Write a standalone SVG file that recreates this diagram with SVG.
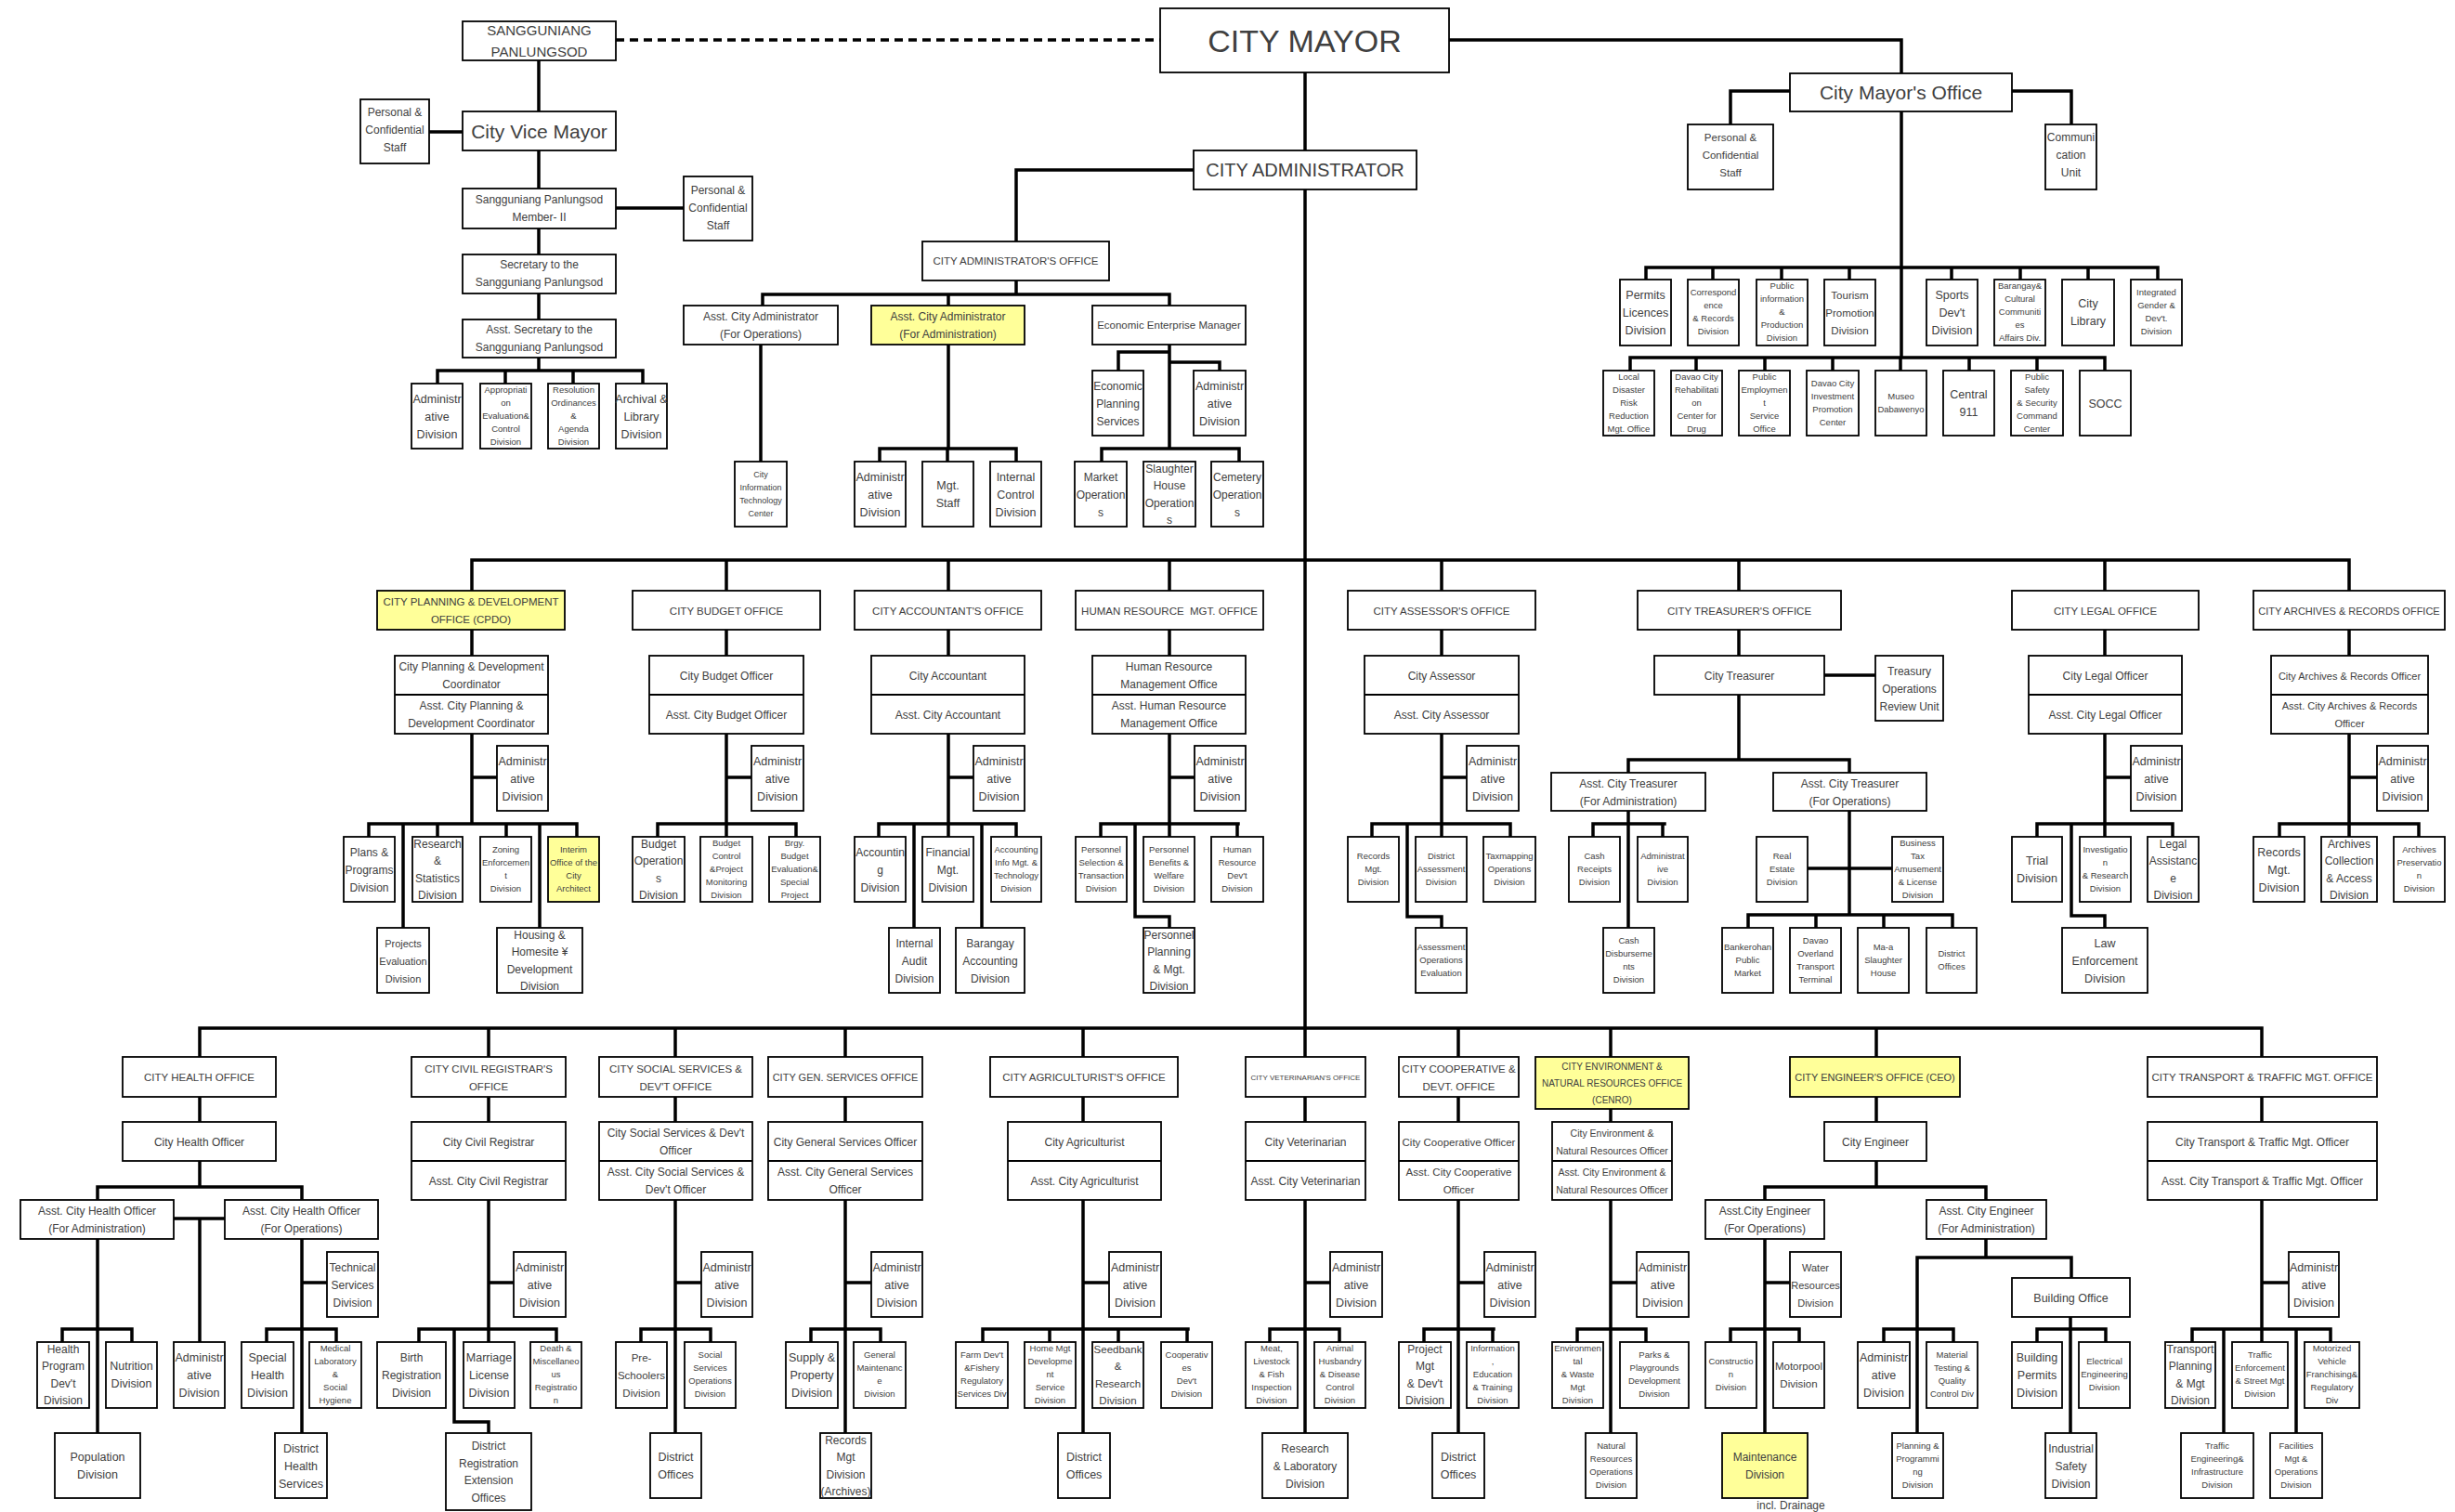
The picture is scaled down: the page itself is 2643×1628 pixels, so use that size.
<svg xmlns="http://www.w3.org/2000/svg" width="2643" height="1628" viewBox="0 0 2643 1628">
<style>
.r{fill:#fff;stroke:#000;stroke-width:1.8}
.y{fill:#ffff99;stroke:#000;stroke-width:1.8}
.dv{stroke:#000;stroke-width:1.8}
.cn{fill:none;stroke:#000;stroke-width:3.5;stroke-linecap:square}
.ds{fill:none;stroke:#000;stroke-width:3.5;stroke-dasharray:9 6}
text{font-family:"Liberation Sans",Arial,sans-serif;fill:#404040;text-anchor:middle}
.a{font-size:12.5px}.b{font-size:12px}.m{font-size:12px}.c{font-size:9.5px}.d{font-size:9px}.h{font-size:11.5px}
</style>
<rect width="2643" height="1628" fill="#fff"/>
<g id="connectors">
<path class="ds" d="M663 43H1249"/>
<path class="cn" d="M580 65V120M462 142H498M580 162V203M663 224H736M580 246V274M580 316V344M580 385V399M471 399H692M471 399V413M544 399V413M617 399V413M692 399V413"/>
<path class="cn" d="M1405 78V162M1560 43H2047V79M1285 183H1094V260M1405 204V1138"/>
<path class="cn" d="M1927 98H1863V134M2166 98H2230V134M2047 120V385M1772 288H2323M1772 288V301M1844 288V301M1918 288V301M1991 288V301M2101 288V301M2175 288V301M2248 288V301M2323 288V301M1755 385H2266M1755 385V399M1826 385V399M1900 385V399M1973 385V399M2046 385V399M2120 385V399M2193 385V399M2266 385V399"/>
<path class="cn" d="M1094 302V317M821 317H1259M821 317V329M1021 317V329M1259 317V329M819 371V497M1021 371V483M947 483H1094M947 483V497M1020 483V497M1094 483V497M1259 371V483M1259 379H1204V399M1259 390H1313V399M1186 483H1334M1186 483V497M1334 483V497"/>
<path class="cn" d="M508 603H2529M508 603V636M782 603V636M1021 603V636M1259 603V636M1552 603V636M1872 603V636M2266 603V636M2529 603V636"/>
<path class="cn" d="M508 678V706M508 790V887M508 837H535M397 887H621M397 887V901M471 887V901M545 887V901M621 887V901M434 887V999M581 887V999"/>
<path class="cn" d="M782 678V706M782 790V887M782 837H809M708 887H857M708 887V901M782 887V901M857 887V901"/>
<path class="cn" d="M1021 678V706M1021 790V887M1021 837H1048M946 887H1094M946 887V901M1021 887V901M1094 887V901M984 887V999M1057 887V999"/>
<path class="cn" d="M1259 678V706M1259 790V887M1259 837H1286M1185 887H1333M1185 887V901M1259 887V901M1332 887V901M1222 887V987H1259V999"/>
<path class="cn" d="M1552 678V706M1552 790V887M1552 837H1579M1477 887H1626M1477 887V901M1552 887V901M1626 887V901M1515 887V987H1552V999"/>
<path class="cn" d="M1872 678V706M1964 727H2019M1872 748V818M1753 818H1991M1753 818V832M1991 818V832M1753 873V999M1715 887H1792M1715 887V901M1790 887V901M1991 873V985M1946 935H2037M1882 985H2102M1882 985V999M1955 985V999M2028 985V999M2102 985V999"/>
<path class="cn" d="M2266 678V706M2266 790V887M2266 837H2294M2193 887H2339M2193 887V901M2266 887V901M2339 887V901M2230 887V986H2266V999"/>
<path class="cn" d="M2529 678V706M2529 790V887M2529 837H2559M2454 887H2604M2454 887V901M2529 887V901M2604 887V901"/>
<path class="cn" d="M215 1107H2435M215 1107V1138M526 1107V1138M727 1107V1138M910 1107V1138M1166 1107V1138M1570 1107V1138M1734 1107V1138M2020 1107V1138M2435 1107V1138"/>
<path class="cn" d="M215 1181V1208M215 1250V1278M105 1278H325M105 1278V1292M325 1278V1292M187 1312H242M215 1312V1445M105 1334V1543M67 1431H142M67 1431V1445M142 1431V1445M325 1334V1543M325 1381H352M287 1431H362M287 1431V1445M362 1431V1445"/>
<path class="cn" d="M526 1181V1208M526 1292V1431M526 1381H553M451 1431H599M451 1431V1445M526 1431V1445M599 1431V1445M489 1431V1531H526V1543"/>
<path class="cn" d="M727 1181V1208M727 1292V1543M727 1381H755M690 1431H765M690 1431V1445M765 1431V1445"/>
<path class="cn" d="M910 1181V1208M910 1292V1543M910 1381H938M873 1431H948M873 1431V1445M948 1431V1445"/>
<path class="cn" d="M1166 1181V1208M1166 1292V1543M1166 1381H1194M1058 1431H1279M1058 1431V1445M1130 1431V1445M1204 1431V1445M1278 1431V1445"/>
<path class="cn" d="M1405 1181V1208M1405 1292V1543M1405 1381H1432M1367 1431H1442M1367 1431V1445M1442 1431V1445"/>
<path class="cn" d="M1570 1181V1208M1570 1292V1543M1570 1381H1598M1533 1431H1608M1533 1431V1445M1607 1431V1445"/>
<path class="cn" d="M1734 1194V1208M1734 1292V1543M1734 1381H1762M1698 1431H1772M1698 1431V1445M1772 1431V1445"/>
<path class="cn" d="M2020 1181V1208M2020 1250V1278M1900 1278H2138M1900 1278V1292M2138 1278V1292M1900 1334V1543M1900 1381H1927M1863 1431H1937M1863 1431V1445M1937 1431V1445M2138 1334V1354M2064 1354H2230M2064 1354V1543M2230 1354V1376M2028 1431H2103M2028 1431V1445M2103 1431V1445M2229 1418V1543M2193 1431H2267M2193 1431V1445M2267 1431V1445"/>
<path class="cn" d="M2435 1181V1208M2435 1292V1445M2435 1381H2464M2360 1431H2509M2360 1431V1445M2509 1431V1445M2394 1431V1543M2472 1431V1543"/>
</g>

<g id="sp"><rect class="r" x="498" y="23" width="165" height="42"/><text style="font-size:15px"><tspan x="580.5" y="38">SANGGUNIANG</tspan><tspan x="580.5" y="61">PANLUNGSOD</tspan></text></g>
<g id="vice-mayor"><rect class="r" x="498" y="120" width="165" height="42"/><text x="580.5" y="149" style="font-size:21px">City Vice Mayor</text></g>
<g id="vm-staff"><rect class="r" x="388" y="107" width="74" height="69"/><text class="b"><tspan x="425" y="125">Personal &amp;</tspan><tspan x="425" y="144">Confidential</tspan><tspan x="425" y="163">Staff</tspan></text></g>
<g id="sp-member"><rect class="r" x="498" y="203" width="165" height="43"/><text class="m"><tspan x="580.5" y="218.5">Sangguniang Panlungsod</tspan><tspan x="580.5" y="237.5">Member- II</tspan></text></g>
<g id="member-staff"><rect class="r" x="736" y="190" width="74" height="69"/><text class="b"><tspan x="773" y="209">Personal &amp;</tspan><tspan x="773" y="228">Confidential</tspan><tspan x="773" y="247">Staff</tspan></text></g>
<g id="sp-secretary"><rect class="r" x="498" y="274" width="165" height="42"/><text class="m"><tspan x="580.5" y="288.5">Secretary to the</tspan><tspan x="580.5" y="307.5">Sangguniang Panlungsod</tspan></text></g>
<g id="sp-asst-secretary"><rect class="r" x="498" y="344" width="165" height="41"/><text class="m"><tspan x="580.5" y="359">Asst. Secretary to the</tspan><tspan x="580.5" y="378">Sangguniang Panlungsod</tspan></text></g>
<g id="sp-admin"><rect class="r" x="443" y="413" width="55" height="70"/><text class="a"><tspan x="470.5" y="433.5">Administr</tspan><tspan x="470.5" y="452.5">ative</tspan><tspan x="470.5" y="471.5">Division</tspan></text></g>
<g id="sp-approp"><rect class="r" x="517" y="413" width="55" height="70"/><text class="c"><tspan x="544.5" y="423.3">Appropriati</tspan><tspan x="544.5" y="437.3">on</tspan><tspan x="544.5" y="451.3">Evaluation&amp;</tspan><tspan x="544.5" y="465.3">Control</tspan><tspan x="544.5" y="479.3">Division</tspan></text></g>
<g id="sp-resolution"><rect class="r" x="590" y="413" width="55" height="70"/><text class="c"><tspan x="617.5" y="423.3">Resolution</tspan><tspan x="617.5" y="437.3">Ordinances</tspan><tspan x="617.5" y="451.3">&amp;</tspan><tspan x="617.5" y="465.3">Agenda</tspan><tspan x="617.5" y="479.3">Division</tspan></text></g>
<g id="sp-archival"><rect class="r" x="663" y="413" width="55" height="70"/><text class="a"><tspan x="690.5" y="433.5">Archival &amp;</tspan><tspan x="690.5" y="452.5">Library</tspan><tspan x="690.5" y="471.5">Division</tspan></text></g>

<g id="city-mayor"><rect class="r" x="1249" y="9" width="311" height="69"/><text x="1404.5" y="56" style="font-size:34px">CITY MAYOR</text></g>
<g id="city-administrator"><rect class="r" x="1285" y="162" width="240" height="42"/><text x="1405" y="190" style="font-size:20px">CITY ADMINISTRATOR</text></g>
<g id="mayors-office"><rect class="r" x="1927" y="79" width="239" height="41"/><text x="2046.5" y="107" style="font-size:21px">City Mayor's Office</text></g>
<g id="mo-staff"><rect class="r" x="1817" y="134" width="92" height="70"/><text style="font-size:11.5px"><tspan x="1863" y="152">Personal &amp;</tspan><tspan x="1863" y="171">Confidential</tspan><tspan x="1863" y="190">Staff</tspan></text></g>
<g id="mo-comm"><rect class="r" x="2202" y="134" width="55" height="70"/><text class="b"><tspan x="2229.5" y="152">Communi</tspan><tspan x="2229.5" y="171">cation</tspan><tspan x="2229.5" y="190">Unit</tspan></text></g>
<g id="mo-permits"><rect class="r" x="1744" y="301" width="55" height="71"/><text class="a"><tspan x="1771.5" y="321.5">Permits</tspan><tspan x="1771.5" y="340.5">Licences</tspan><tspan x="1771.5" y="359.5">Division</tspan></text></g>
<g id="mo-corr"><rect class="r" x="1817" y="301" width="55" height="71"/><text class="c"><tspan x="1844.5" y="318.3">Correspond</tspan><tspan x="1844.5" y="332.3">ence</tspan><tspan x="1844.5" y="346.3">&amp; Records</tspan><tspan x="1844.5" y="360.3">Division</tspan></text></g>
<g id="mo-pubinfo"><rect class="r" x="1891" y="301" width="55" height="71"/><text class="c"><tspan x="1918.5" y="311.3">Public</tspan><tspan x="1918.5" y="325.3">information</tspan><tspan x="1918.5" y="339.3">&amp;</tspan><tspan x="1918.5" y="353.3">Production</tspan><tspan x="1918.5" y="367.3">Division</tspan></text></g>
<g id="mo-tourism"><rect class="r" x="1964" y="301" width="55" height="71"/><text style="font-size:11.5px"><tspan x="1991.5" y="321.5">Tourism</tspan><tspan x="1991.5" y="340.5">Promotion</tspan><tspan x="1991.5" y="359.5">Division</tspan></text></g>
<g id="mo-sports"><rect class="r" x="2074" y="301" width="55" height="71"/><text class="a"><tspan x="2101.5" y="321.5">Sports</tspan><tspan x="2101.5" y="340.5">Dev't</tspan><tspan x="2101.5" y="359.5">Division</tspan></text></g>
<g id="mo-brgy"><rect class="r" x="2147" y="301" width="55" height="71"/><text class="c"><tspan x="2174.5" y="311.3">Barangay&amp;</tspan><tspan x="2174.5" y="325.3">Cultural</tspan><tspan x="2174.5" y="339.3">Communiti</tspan><tspan x="2174.5" y="353.3">es</tspan><tspan x="2174.5" y="367.3">Affairs Div.</tspan></text></g>
<g id="mo-library"><rect class="r" x="2220" y="301" width="56" height="71"/><text class="a"><tspan x="2248" y="331">City</tspan><tspan x="2248" y="350">Library</tspan></text></g>
<g id="mo-gender"><rect class="r" x="2294" y="301" width="55" height="71"/><text class="c"><tspan x="2321.5" y="318.3">Integrated</tspan><tspan x="2321.5" y="332.3">Gender &amp;</tspan><tspan x="2321.5" y="346.3">Dev't.</tspan><tspan x="2321.5" y="360.3">Division</tspan></text></g>
<g id="mo-ldrrmo"><rect class="r" x="1726" y="399" width="55" height="70"/><text class="c"><tspan x="1753.5" y="409.3">Local</tspan><tspan x="1753.5" y="423.3">Disaster</tspan><tspan x="1753.5" y="437.3">Risk</tspan><tspan x="1753.5" y="451.3">Reduction</tspan><tspan x="1753.5" y="465.3">Mgt. Office</tspan></text></g>
<g id="mo-rehab"><rect class="r" x="1799" y="399" width="55" height="70"/><text class="c"><tspan x="1826.5" y="409.3">Davao City</tspan><tspan x="1826.5" y="423.3">Rehabilitati</tspan><tspan x="1826.5" y="437.3">on</tspan><tspan x="1826.5" y="451.3">Center for</tspan><tspan x="1826.5" y="465.3">Drug</tspan></text></g>
<g id="mo-peso"><rect class="r" x="1872" y="399" width="55" height="70"/><text class="c"><tspan x="1899.5" y="409.3">Public</tspan><tspan x="1899.5" y="423.3">Employmen</tspan><tspan x="1899.5" y="437.3">t</tspan><tspan x="1899.5" y="451.3">Service</tspan><tspan x="1899.5" y="465.3">Office</tspan></text></g>
<g id="mo-dcipc"><rect class="r" x="1945" y="399" width="56" height="70"/><text class="c"><tspan x="1973" y="416.3">Davao City</tspan><tspan x="1973" y="430.3">Investment</tspan><tspan x="1973" y="444.3">Promotion</tspan><tspan x="1973" y="458.3">Center</tspan></text></g>
<g id="mo-museo"><rect class="r" x="2019" y="399" width="55" height="70"/><text class="c"><tspan x="2046.5" y="430.3">Museo</tspan><tspan x="2046.5" y="444.3">Dabawenyo</tspan></text></g>
<g id="mo-911"><rect class="r" x="2092" y="399" width="55" height="70"/><text class="a"><tspan x="2119.5" y="429">Central</tspan><tspan x="2119.5" y="448">911</tspan></text></g>
<g id="mo-pssc"><rect class="r" x="2165" y="399" width="56" height="70"/><text class="c"><tspan x="2193" y="409.3">Public</tspan><tspan x="2193" y="423.3">Safety</tspan><tspan x="2193" y="437.3">&amp; Security</tspan><tspan x="2193" y="451.3">Command</tspan><tspan x="2193" y="465.3">Center</tspan></text></g>
<g id="mo-socc"><rect class="r" x="2239" y="399" width="55" height="70"/><text x="2266.5" y="438.5" class="a">SOCC</text></g>

<g id="cao"><rect class="r" x="993" y="260" width="201" height="42"/><text x="1093.5" y="285" class="h">CITY ADMINISTRATOR'S OFFICE</text></g>
<g id="aca-ops"><rect class="r" x="736" y="329" width="166" height="42"/><text class="m"><tspan x="819" y="345">Asst. City Administrator</tspan><tspan x="819" y="364">(For Operations)</tspan></text></g>
<g id="aca-adm"><rect class="y" x="938" y="329" width="165" height="42"/><text class="m"><tspan x="1020.5" y="345">Asst. City Administrator</tspan><tspan x="1020.5" y="364">(For Administration)</tspan></text></g>
<g id="eem"><rect class="r" x="1176" y="329" width="165" height="42"/><text x="1258.5" y="354" style="font-size:11.5px">Economic Enterprise Manager</text></g>
<g id="citc"><rect class="r" x="791" y="497" width="56" height="70"/><text class="d"><tspan x="819" y="514.3">City</tspan><tspan x="819" y="528.3">Information</tspan><tspan x="819" y="542.3">Technology</tspan><tspan x="819" y="556.3">Center</tspan></text></g>
<g id="cao-admin"><rect class="r" x="920" y="497" width="55" height="70"/><text class="a"><tspan x="947.5" y="517.5">Administr</tspan><tspan x="947.5" y="536.5">ative</tspan><tspan x="947.5" y="555.5">Division</tspan></text></g>
<g id="cao-mgt"><rect class="r" x="993" y="497" width="55" height="70"/><text class="a"><tspan x="1020.5" y="527">Mgt.</tspan><tspan x="1020.5" y="546">Staff</tspan></text></g>
<g id="cao-icd"><rect class="r" x="1066" y="497" width="55" height="70"/><text class="a"><tspan x="1093.5" y="517.5">Internal</tspan><tspan x="1093.5" y="536.5">Control</tspan><tspan x="1093.5" y="555.5">Division</tspan></text></g>
<g id="eem-eps"><rect class="r" x="1176" y="399" width="55" height="70"/><text class="m"><tspan x="1203.5" y="419.5">Economic</tspan><tspan x="1203.5" y="438.5">Planning</tspan><tspan x="1203.5" y="457.5">Services</tspan></text></g>
<g id="eem-admin"><rect class="r" x="1285" y="399" width="56" height="70"/><text class="a"><tspan x="1313" y="419.5">Administr</tspan><tspan x="1313" y="438.5">ative</tspan><tspan x="1313" y="457.5">Division</tspan></text></g>
<g id="eem-market"><rect class="r" x="1157" y="497" width="56" height="70"/><text class="b"><tspan x="1185" y="517.5">Market</tspan><tspan x="1185" y="536.5">Operation</tspan><tspan x="1185" y="555.5">s</tspan></text></g>
<g id="eem-slaughter"><rect class="r" x="1231" y="497" width="56" height="70"/><text class="b"><tspan x="1259" y="508.5">Slaughter</tspan><tspan x="1259" y="527">House</tspan><tspan x="1259" y="545.5">Operation</tspan><tspan x="1259" y="564">s</tspan></text></g>
<g id="eem-cemetery"><rect class="r" x="1304" y="497" width="56" height="70"/><text class="b"><tspan x="1332" y="517.5">Cemetery</tspan><tspan x="1332" y="536.5">Operation</tspan><tspan x="1332" y="555.5">s</tspan></text></g>

<g id="cpdo"><rect class="y" x="406" y="636" width="202" height="42"/><text class="h"><tspan x="507" y="651.5">CITY PLANNING &amp; DEVELOPMENT</tspan><tspan x="507" y="670.5">OFFICE (CPDO)</tspan></text></g>
<g id="cbo"><rect class="r" x="681" y="636" width="202" height="42"/><text x="782" y="661.5" class="h">CITY BUDGET OFFICE</text></g>
<g id="cacco"><rect class="r" x="920" y="636" width="201" height="42"/><text x="1020.5" y="661.5" class="h">CITY ACCOUNTANT'S OFFICE</text></g>
<g id="hrmo"><rect class="r" x="1158" y="636" width="202" height="42"/><text x="1259" y="661.5" class="h" xml:space="preserve">HUMAN RESOURCE  MGT. OFFICE</text></g>
<g id="casso"><rect class="r" x="1451" y="636" width="202" height="42"/><text x="1552" y="661.5" class="h">CITY ASSESSOR'S OFFICE</text></g>
<g id="cto"><rect class="r" x="1763" y="636" width="219" height="42"/><text x="1872.5" y="661.5" class="h">CITY TREASURER'S OFFICE</text></g>
<g id="clo"><rect class="r" x="2166" y="636" width="201" height="42"/><text x="2266.5" y="661.5" class="h">CITY LEGAL OFFICE</text></g>
<g id="caro"><rect class="r" x="2426" y="636" width="206" height="42"/><text x="2529" y="661.5" style="font-size:11px">CITY ARCHIVES &amp; RECORDS OFFICE</text></g>

<g id="cpdo-coord"><rect class="r" x="425" y="706" width="165" height="84"/><line class="dv" x1="425" y1="748" x2="590" y2="748"/><text class="m"><tspan x="507.5" y="722">City Planning &amp; Development</tspan><tspan x="507.5" y="741">Coordinator</tspan><tspan x="507.5" y="764">Asst. City Planning &amp;</tspan><tspan x="507.5" y="783">Development Coordinator</tspan></text></g>
<g id="cbo-officer"><rect class="r" x="699" y="706" width="166" height="84"/><line class="dv" x1="699" y1="748" x2="865" y2="748"/><text class="m"><tspan x="782" y="731.5">City Budget Officer</tspan><tspan x="782" y="773.5">Asst. City Budget Officer</tspan></text></g>
<g id="cacc-officer"><rect class="r" x="938" y="706" width="165" height="84"/><line class="dv" x1="938" y1="748" x2="1103" y2="748"/><text class="m"><tspan x="1020.5" y="731.5">City Accountant</tspan><tspan x="1020.5" y="773.5">Asst. City Accountant</tspan></text></g>
<g id="hr-officer"><rect class="r" x="1176" y="706" width="165" height="84"/><line class="dv" x1="1176" y1="748" x2="1341" y2="748"/><text class="m"><tspan x="1258.5" y="722">Human Resource</tspan><tspan x="1258.5" y="741">Management Office</tspan><tspan x="1258.5" y="764">Asst. Human Resource</tspan><tspan x="1258.5" y="783">Management Office</tspan></text></g>
<g id="cass-officer"><rect class="r" x="1469" y="706" width="166" height="84"/><line class="dv" x1="1469" y1="748" x2="1635" y2="748"/><text class="m"><tspan x="1552" y="731.5">City Assessor</tspan><tspan x="1552" y="773.5">Asst. City Assessor</tspan></text></g>
<g id="treasurer"><rect class="r" x="1781" y="706" width="183" height="42"/><text x="1872.5" y="731.5" class="m">City Treasurer</text></g>
<g id="legal-officer"><rect class="r" x="2184" y="706" width="165" height="84"/><line class="dv" x1="2184" y1="748" x2="2349" y2="748"/><text class="m"><tspan x="2266.5" y="731.5">City Legal Officer</tspan><tspan x="2266.5" y="773.5">Asst. City Legal Officer</tspan></text></g>
<g id="archives-officer"><rect class="r" x="2445" y="706" width="169" height="84"/><line class="dv" x1="2445" y1="748" x2="2614" y2="748"/><text style="font-size:11px"><tspan x="2529.5" y="731.5">City Archives &amp; Records Officer</tspan><tspan x="2529.5" y="764">Asst. City Archives &amp; Records</tspan><tspan x="2529.5" y="783">Officer</tspan></text></g>

<g id="cpdo-admin"><rect class="r" x="535" y="803" width="55" height="70"/><text class="a"><tspan x="562.5" y="823.5">Administr</tspan><tspan x="562.5" y="842.5">ative</tspan><tspan x="562.5" y="861.5">Division</tspan></text></g>
<g id="cbo-admin"><rect class="r" x="809" y="803" width="56" height="70"/><text class="a"><tspan x="837" y="823.5">Administr</tspan><tspan x="837" y="842.5">ative</tspan><tspan x="837" y="861.5">Division</tspan></text></g>
<g id="cacc-admin"><rect class="r" x="1048" y="803" width="55" height="70"/><text class="a"><tspan x="1075.5" y="823.5">Administr</tspan><tspan x="1075.5" y="842.5">ative</tspan><tspan x="1075.5" y="861.5">Division</tspan></text></g>
<g id="hr-admin"><rect class="r" x="1286" y="803" width="55" height="70"/><text class="a"><tspan x="1313.5" y="823.5">Administr</tspan><tspan x="1313.5" y="842.5">ative</tspan><tspan x="1313.5" y="861.5">Division</tspan></text></g>
<g id="cass-admin"><rect class="r" x="1579" y="803" width="56" height="70"/><text class="a"><tspan x="1607" y="823.5">Administr</tspan><tspan x="1607" y="842.5">ative</tspan><tspan x="1607" y="861.5">Division</tspan></text></g>
<g id="legal-admin"><rect class="r" x="2294" y="803" width="55" height="70"/><text class="a"><tspan x="2321.5" y="823.5">Administr</tspan><tspan x="2321.5" y="842.5">ative</tspan><tspan x="2321.5" y="861.5">Division</tspan></text></g>
<g id="arch-admin"><rect class="r" x="2559" y="803" width="55" height="70"/><text class="a"><tspan x="2586.5" y="823.5">Administr</tspan><tspan x="2586.5" y="842.5">ative</tspan><tspan x="2586.5" y="861.5">Division</tspan></text></g>

<g id="cpdo-plans"><rect class="r" x="370" y="901" width="55" height="70"/><text class="m"><tspan x="397.5" y="921.5">Plans &amp;</tspan><tspan x="397.5" y="940.5">Programs</tspan><tspan x="397.5" y="959.5">Division</tspan></text></g>
<g id="cpdo-research"><rect class="r" x="444" y="901" width="54" height="70"/><text class="b"><tspan x="471" y="912.5">Research</tspan><tspan x="471" y="931">&amp;</tspan><tspan x="471" y="949.5">Statistics</tspan><tspan x="471" y="968">Division</tspan></text></g>
<g id="cpdo-zoning"><rect class="r" x="517" y="901" width="55" height="70"/><text class="c"><tspan x="544.5" y="918.3">Zoning</tspan><tspan x="544.5" y="932.3">Enforcemen</tspan><tspan x="544.5" y="946.3">t</tspan><tspan x="544.5" y="960.3">Division</tspan></text></g>
<g id="cpdo-interim"><rect class="y" x="590" y="901" width="55" height="70"/><text class="c"><tspan x="617.5" y="918.3">Interim</tspan><tspan x="617.5" y="932.3">Office of the</tspan><tspan x="617.5" y="946.3">City</tspan><tspan x="617.5" y="960.3">Architect</tspan></text></g>
<g id="cpdo-projects"><rect class="r" x="406" y="999" width="56" height="70"/><text style="font-size:11px"><tspan x="434" y="1019.5">Projects</tspan><tspan x="434" y="1038.5">Evaluation</tspan><tspan x="434" y="1057.5">Division</tspan></text></g>
<g id="cpdo-housing"><rect class="r" x="535" y="999" width="92" height="70"/><text class="b"><tspan x="581" y="1010.5">Housing &amp;</tspan><tspan x="581" y="1029">Homesite ¥</tspan><tspan x="581" y="1047.5">Development</tspan><tspan x="581" y="1066">Division</tspan></text></g>

<g id="cbo-ops"><rect class="r" x="681" y="901" width="56" height="70"/><text class="b"><tspan x="709" y="912.5">Budget</tspan><tspan x="709" y="931">Operation</tspan><tspan x="709" y="949.5">s</tspan><tspan x="709" y="968">Division</tspan></text></g>
<g id="cbo-control"><rect class="r" x="754" y="901" width="56" height="70"/><text class="c"><tspan x="782" y="911.3">Budget</tspan><tspan x="782" y="925.3">Control</tspan><tspan x="782" y="939.3">&amp;Project</tspan><tspan x="782" y="953.3">Monitoring</tspan><tspan x="782" y="967.3">Division</tspan></text></g>
<g id="cbo-brgy"><rect class="r" x="828" y="901" width="55" height="70"/><text class="c"><tspan x="855.5" y="911.3">Brgy.</tspan><tspan x="855.5" y="925.3">Budget</tspan><tspan x="855.5" y="939.3">Evaluation&amp;</tspan><tspan x="855.5" y="953.3">Special</tspan><tspan x="855.5" y="967.3">Project</tspan></text></g>

<g id="acc-accounting"><rect class="r" x="920" y="901" width="55" height="70"/><text class="m"><tspan x="947.5" y="921.5">Accountin</tspan><tspan x="947.5" y="940.5">g</tspan><tspan x="947.5" y="959.5">Division</tspan></text></g>
<g id="acc-financial"><rect class="r" x="993" y="901" width="55" height="70"/><text class="m"><tspan x="1020.5" y="921.5">Financial</tspan><tspan x="1020.5" y="940.5">Mgt.</tspan><tspan x="1020.5" y="959.5">Division</tspan></text></g>
<g id="acc-aimt"><rect class="r" x="1067" y="901" width="54" height="70"/><text class="c"><tspan x="1094" y="918.3">Accounting</tspan><tspan x="1094" y="932.3">Info Mgt. &amp;</tspan><tspan x="1094" y="946.3">Technology</tspan><tspan x="1094" y="960.3">Division</tspan></text></g>
<g id="acc-audit"><rect class="r" x="957" y="999" width="55" height="70"/><text class="m"><tspan x="984.5" y="1019.5">Internal</tspan><tspan x="984.5" y="1038.5">Audit</tspan><tspan x="984.5" y="1057.5">Division</tspan></text></g>
<g id="acc-brgy"><rect class="r" x="1029" y="999" width="74" height="70"/><text class="m"><tspan x="1066" y="1019.5">Barangay</tspan><tspan x="1066" y="1038.5">Accounting</tspan><tspan x="1066" y="1057.5">Division</tspan></text></g>

<g id="hr-pstd"><rect class="r" x="1158" y="901" width="55" height="70"/><text class="c"><tspan x="1185.5" y="918.3">Personnel</tspan><tspan x="1185.5" y="932.3">Selection &amp;</tspan><tspan x="1185.5" y="946.3">Transaction</tspan><tspan x="1185.5" y="960.3">Division</tspan></text></g>
<g id="hr-pbwd"><rect class="r" x="1231" y="901" width="55" height="70"/><text class="c"><tspan x="1258.5" y="918.3">Personnel</tspan><tspan x="1258.5" y="932.3">Benefits &amp;</tspan><tspan x="1258.5" y="946.3">Welfare</tspan><tspan x="1258.5" y="960.3">Division</tspan></text></g>
<g id="hr-hrdd"><rect class="r" x="1304" y="901" width="56" height="70"/><text class="c"><tspan x="1332" y="918.3">Human</tspan><tspan x="1332" y="932.3">Resource</tspan><tspan x="1332" y="946.3">Dev't</tspan><tspan x="1332" y="960.3">Division</tspan></text></g>
<g id="hr-ppmd"><rect class="r" x="1231" y="999" width="55" height="70"/><text class="b"><tspan x="1258.5" y="1010.5">Personnel</tspan><tspan x="1258.5" y="1029">Planning</tspan><tspan x="1258.5" y="1047.5">&amp; Mgt.</tspan><tspan x="1258.5" y="1066">Division</tspan></text></g>

<g id="ass-records"><rect class="r" x="1451" y="901" width="55" height="70"/><text class="c"><tspan x="1478.5" y="925.3">Records</tspan><tspan x="1478.5" y="939.3">Mgt.</tspan><tspan x="1478.5" y="953.3">Division</tspan></text></g>
<g id="ass-district"><rect class="r" x="1524" y="901" width="55" height="70"/><text class="c"><tspan x="1551.5" y="925.3">District</tspan><tspan x="1551.5" y="939.3">Assessment</tspan><tspan x="1551.5" y="953.3">Division</tspan></text></g>
<g id="ass-taxmap"><rect class="r" x="1597" y="901" width="56" height="70"/><text class="c"><tspan x="1625" y="925.3">Taxmapping</tspan><tspan x="1625" y="939.3">Operations</tspan><tspan x="1625" y="953.3">Division</tspan></text></g>
<g id="ass-aoe"><rect class="r" x="1524" y="999" width="55" height="70"/><text class="c"><tspan x="1551.5" y="1023.3">Assessment</tspan><tspan x="1551.5" y="1037.3">Operations</tspan><tspan x="1551.5" y="1051.3">Evaluation</tspan></text></g>

<g id="tr-review"><rect class="r" x="2019" y="706" width="73" height="70"/><text class="m"><tspan x="2055.5" y="726.5">Treasury</tspan><tspan x="2055.5" y="745.5">Operations</tspan><tspan x="2055.5" y="764.5">Review Unit</tspan></text></g>
<g id="tr-asst-adm"><rect class="r" x="1670" y="832" width="166" height="41"/><text class="m"><tspan x="1753" y="847.5">Asst. City Treasurer</tspan><tspan x="1753" y="866.5">(For Administration)</tspan></text></g>
<g id="tr-asst-ops"><rect class="r" x="1909" y="832" width="165" height="41"/><text class="m"><tspan x="1991.5" y="847.5">Asst. City Treasurer</tspan><tspan x="1991.5" y="866.5">(For Operations)</tspan></text></g>
<g id="tr-cashrec"><rect class="r" x="1689" y="901" width="55" height="70"/><text class="c"><tspan x="1716.5" y="925.3">Cash</tspan><tspan x="1716.5" y="939.3">Receipts</tspan><tspan x="1716.5" y="953.3">Division</tspan></text></g>
<g id="tr-admin"><rect class="r" x="1763" y="901" width="54" height="70"/><text class="c"><tspan x="1790" y="925.3">Administrat</tspan><tspan x="1790" y="939.3">ive</tspan><tspan x="1790" y="953.3">Division</tspan></text></g>
<g id="tr-cashdisb"><rect class="r" x="1726" y="999" width="55" height="70"/><text class="c"><tspan x="1753.5" y="1016.3">Cash</tspan><tspan x="1753.5" y="1030.3">Disburseme</tspan><tspan x="1753.5" y="1044.3">nts</tspan><tspan x="1753.5" y="1058.3">Division</tspan></text></g>
<g id="tr-realestate"><rect class="r" x="1891" y="901" width="55" height="70"/><text class="c"><tspan x="1918.5" y="925.3">Real</tspan><tspan x="1918.5" y="939.3">Estate</tspan><tspan x="1918.5" y="953.3">Division</tspan></text></g>
<g id="tr-business"><rect class="r" x="2037" y="901" width="55" height="70"/><text class="c"><tspan x="2064.5" y="911.3">Business</tspan><tspan x="2064.5" y="925.3">Tax</tspan><tspan x="2064.5" y="939.3">Amusement</tspan><tspan x="2064.5" y="953.3">&amp; License</tspan><tspan x="2064.5" y="967.3">Division</tspan></text></g>
<g id="tr-bankerohan"><rect class="r" x="1854" y="999" width="55" height="70"/><text class="c"><tspan x="1881.5" y="1023.3">Bankerohan</tspan><tspan x="1881.5" y="1037.3">Public</tspan><tspan x="1881.5" y="1051.3">Market</tspan></text></g>
<g id="tr-dott"><rect class="r" x="1927" y="999" width="55" height="70"/><text class="c"><tspan x="1954.5" y="1016.3">Davao</tspan><tspan x="1954.5" y="1030.3">Overland</tspan><tspan x="1954.5" y="1044.3">Transport</tspan><tspan x="1954.5" y="1058.3">Terminal</tspan></text></g>
<g id="tr-maa"><rect class="r" x="2000" y="999" width="55" height="70"/><text class="c"><tspan x="2027.5" y="1023.3">Ma-a</tspan><tspan x="2027.5" y="1037.3">Slaughter</tspan><tspan x="2027.5" y="1051.3">House</tspan></text></g>
<g id="tr-district"><rect class="r" x="2074" y="999" width="54" height="70"/><text class="c"><tspan x="2101" y="1030.3">District</tspan><tspan x="2101" y="1044.3">Offices</tspan></text></g>

<g id="lg-trial"><rect class="r" x="2166" y="901" width="54" height="70"/><text class="a"><tspan x="2193" y="931">Trial</tspan><tspan x="2193" y="950">Division</tspan></text></g>
<g id="lg-invest"><rect class="r" x="2239" y="901" width="55" height="70"/><text class="c"><tspan x="2266.5" y="918.3">Investigatio</tspan><tspan x="2266.5" y="932.3">n</tspan><tspan x="2266.5" y="946.3">&amp; Research</tspan><tspan x="2266.5" y="960.3">Division</tspan></text></g>
<g id="lg-assist"><rect class="r" x="2312" y="901" width="55" height="70"/><text class="b"><tspan x="2339.5" y="912.5">Legal</tspan><tspan x="2339.5" y="931">Assistanc</tspan><tspan x="2339.5" y="949.5">e</tspan><tspan x="2339.5" y="968">Division</tspan></text></g>
<g id="lg-law"><rect class="r" x="2220" y="999" width="92" height="70"/><text class="a"><tspan x="2266" y="1019.5">Law</tspan><tspan x="2266" y="1038.5">Enforcement</tspan><tspan x="2266" y="1057.5">Division</tspan></text></g>

<g id="ar-records"><rect class="r" x="2426" y="901" width="55" height="70"/><text class="a"><tspan x="2453.5" y="921.5">Records</tspan><tspan x="2453.5" y="940.5">Mgt.</tspan><tspan x="2453.5" y="959.5">Division</tspan></text></g>
<g id="ar-collection"><rect class="r" x="2499" y="901" width="60" height="70"/><text class="b"><tspan x="2529" y="912.5">Archives</tspan><tspan x="2529" y="931">Collection</tspan><tspan x="2529" y="949.5">&amp; Access</tspan><tspan x="2529" y="968">Division</tspan></text></g>
<g id="ar-preserv"><rect class="r" x="2577" y="901" width="55" height="70"/><text class="c"><tspan x="2604.5" y="918.3">Archives</tspan><tspan x="2604.5" y="932.3">Preservatio</tspan><tspan x="2604.5" y="946.3">n</tspan><tspan x="2604.5" y="960.3">Division</tspan></text></g>

<g id="cho"><rect class="r" x="132" y="1138" width="165" height="43"/><text x="214.5" y="1164" class="h">CITY HEALTH OFFICE</text></g>
<g id="ccro"><rect class="r" x="443" y="1138" width="166" height="43"/><text class="h"><tspan x="526" y="1154.5">CITY CIVIL REGISTRAR'S</tspan><tspan x="526" y="1173.5">OFFICE</tspan></text></g>
<g id="cssdo"><rect class="r" x="645" y="1138" width="165" height="43"/><text class="h"><tspan x="727.5" y="1154.5">CITY SOCIAL SERVICES &amp;</tspan><tspan x="727.5" y="1173.5">DEV'T OFFICE</tspan></text></g>
<g id="cgso"><rect class="r" x="827" y="1138" width="166" height="43"/><text x="910" y="1164" style="font-size:11px">CITY GEN. SERVICES OFFICE</text></g>
<g id="cago"><rect class="r" x="1066" y="1138" width="202" height="43"/><text x="1167" y="1164" class="h">CITY AGRICULTURIST'S OFFICE</text></g>
<g id="cvo"><rect class="r" x="1341" y="1138" width="129" height="43"/><text x="1405.5" y="1163" style="font-size:8px">CITY VETERINARIAN'S OFFICE</text></g>
<g id="ccdo"><rect class="r" x="1506" y="1138" width="129" height="43"/><text class="h"><tspan x="1570.5" y="1154.5">CITY COOPERATIVE &amp;</tspan><tspan x="1570.5" y="1173.5">DEVT. OFFICE</tspan></text></g>
<g id="cenro"><rect class="y" x="1653" y="1138" width="165" height="56"/><text style="font-size:10px"><tspan x="1735.5" y="1152">CITY ENVIRONMENT &amp;</tspan><tspan x="1735.5" y="1170">NATURAL RESOURCES OFFICE</tspan><tspan x="1735.5" y="1188">(CENRO)</tspan></text></g>
<g id="ceo"><rect class="y" x="1927" y="1138" width="183" height="43"/><text x="2018.5" y="1164" style="font-size:11px">CITY ENGINEER'S OFFICE (CEO)</text></g>
<g id="cttmo"><rect class="r" x="2312" y="1138" width="247" height="43"/><text x="2435.5" y="1164" class="h">CITY TRANSPORT &amp; TRAFFIC MGT. OFFICE</text></g>

<g id="cho-officer"><rect class="r" x="132" y="1208" width="165" height="42"/><text x="214.5" y="1233.5" class="m">City Health Officer</text></g>
<g id="ccr-officer"><rect class="r" x="443" y="1208" width="166" height="84"/><line class="dv" x1="443" y1="1250" x2="609" y2="1250"/><text class="m"><tspan x="526" y="1233.5">City Civil Registrar</tspan><tspan x="526" y="1275.5">Asst. City Civil Registrar</tspan></text></g>
<g id="css-officer"><rect class="r" x="645" y="1208" width="165" height="84"/><line class="dv" x1="645" y1="1250" x2="810" y2="1250"/><text class="m"><tspan x="727.5" y="1224">City Social Services &amp; Dev't</tspan><tspan x="727.5" y="1243">Officer</tspan><tspan x="727.5" y="1266">Asst. City Social Services &amp;</tspan><tspan x="727.5" y="1285">Dev't Officer</tspan></text></g>
<g id="cgs-officer"><rect class="r" x="827" y="1208" width="166" height="84"/><line class="dv" x1="827" y1="1250" x2="993" y2="1250"/><text class="m"><tspan x="910" y="1233.5">City General Services Officer</tspan><tspan x="910" y="1266">Asst. City General Services</tspan><tspan x="910" y="1285">Officer</tspan></text></g>
<g id="agri-officer"><rect class="r" x="1085" y="1208" width="165" height="84"/><line class="dv" x1="1085" y1="1250" x2="1250" y2="1250"/><text class="m"><tspan x="1167.5" y="1233.5">City Agriculturist</tspan><tspan x="1167.5" y="1275.5">Asst. City Agriculturist</tspan></text></g>
<g id="vet-officer"><rect class="r" x="1341" y="1208" width="129" height="84"/><line class="dv" x1="1341" y1="1250" x2="1470" y2="1250"/><text class="m"><tspan x="1405.5" y="1233.5">City Veterinarian</tspan><tspan x="1405.5" y="1275.5">Asst. City Veterinarian</tspan></text></g>
<g id="coop-officer"><rect class="r" x="1506" y="1208" width="129" height="84"/><line class="dv" x1="1506" y1="1250" x2="1635" y2="1250"/><text style="font-size:11.5px"><tspan x="1570.5" y="1233.5">City Cooperative Officer</tspan><tspan x="1570.5" y="1266">Asst. City Cooperative</tspan><tspan x="1570.5" y="1285">Officer</tspan></text></g>
<g id="cenro-officer"><rect class="r" x="1671" y="1208" width="129" height="84"/><line class="dv" x1="1671" y1="1250" x2="1800" y2="1250"/><text style="font-size:10.5px"><tspan x="1735.5" y="1224">City Environment &amp;</tspan><tspan x="1735.5" y="1243">Natural Resources Officer</tspan><tspan x="1735.5" y="1266">Asst. City Environment &amp;</tspan><tspan x="1735.5" y="1285">Natural Resources Officer</tspan></text></g>
<g id="ceo-engineer"><rect class="r" x="1964" y="1208" width="110" height="42"/><text x="2019" y="1233.5" class="m">City Engineer</text></g>
<g id="ttm-officer"><rect class="r" x="2312" y="1208" width="247" height="84"/><line class="dv" x1="2312" y1="1250" x2="2559" y2="1250"/><text class="m"><tspan x="2435.5" y="1233.5">City Transport &amp; Traffic Mgt. Officer</tspan><tspan x="2435.5" y="1275.5">Asst. City Transport &amp; Traffic Mgt. Officer</tspan></text></g>

<g id="acho-adm"><rect class="r" x="22" y="1292" width="165" height="42"/><text class="m"><tspan x="104.5" y="1308">Asst. City Health Officer</tspan><tspan x="104.5" y="1327">(For Administration)</tspan></text></g>
<g id="acho-ops"><rect class="r" x="242" y="1292" width="165" height="42"/><text class="m"><tspan x="324.5" y="1308">Asst. City Health Officer</tspan><tspan x="324.5" y="1327">(For Operations)</tspan></text></g>
<g id="ace-ops"><rect class="r" x="1836" y="1292" width="128" height="42"/><text class="m"><tspan x="1900" y="1308">Asst.City Engineer</tspan><tspan x="1900" y="1327">(For Operations)</tspan></text></g>
<g id="ace-adm"><rect class="r" x="2074" y="1292" width="129" height="42"/><text class="m"><tspan x="2138.5" y="1308">Asst. City Engineer</tspan><tspan x="2138.5" y="1327">(For Administration)</tspan></text></g>

<g id="cho-tech"><rect class="r" x="352" y="1348" width="55" height="70"/><text class="m"><tspan x="379.5" y="1368.5">Technical</tspan><tspan x="379.5" y="1387.5">Services</tspan><tspan x="379.5" y="1406.5">Division</tspan></text></g>
<g id="ccr-admin"><rect class="r" x="553" y="1348" width="56" height="70"/><text class="a"><tspan x="581" y="1368.5">Administr</tspan><tspan x="581" y="1387.5">ative</tspan><tspan x="581" y="1406.5">Division</tspan></text></g>
<g id="css-admin"><rect class="r" x="755" y="1348" width="55" height="70"/><text class="a"><tspan x="782.5" y="1368.5">Administr</tspan><tspan x="782.5" y="1387.5">ative</tspan><tspan x="782.5" y="1406.5">Division</tspan></text></g>
<g id="cgs-admin"><rect class="r" x="938" y="1348" width="55" height="70"/><text class="a"><tspan x="965.5" y="1368.5">Administr</tspan><tspan x="965.5" y="1387.5">ative</tspan><tspan x="965.5" y="1406.5">Division</tspan></text></g>
<g id="agri-admin"><rect class="r" x="1194" y="1348" width="56" height="70"/><text class="a"><tspan x="1222" y="1368.5">Administr</tspan><tspan x="1222" y="1387.5">ative</tspan><tspan x="1222" y="1406.5">Division</tspan></text></g>
<g id="vet-admin"><rect class="r" x="1432" y="1348" width="56" height="70"/><text class="a"><tspan x="1460" y="1368.5">Administr</tspan><tspan x="1460" y="1387.5">ative</tspan><tspan x="1460" y="1406.5">Division</tspan></text></g>
<g id="coop-admin"><rect class="r" x="1598" y="1348" width="55" height="70"/><text class="a"><tspan x="1625.5" y="1368.5">Administr</tspan><tspan x="1625.5" y="1387.5">ative</tspan><tspan x="1625.5" y="1406.5">Division</tspan></text></g>
<g id="cenro-admin"><rect class="r" x="1762" y="1348" width="56" height="70"/><text class="a"><tspan x="1790" y="1368.5">Administr</tspan><tspan x="1790" y="1387.5">ative</tspan><tspan x="1790" y="1406.5">Division</tspan></text></g>
<g id="ceo-water"><rect class="r" x="1927" y="1348" width="55" height="70"/><text style="font-size:11px"><tspan x="1954.5" y="1368.5">Water</tspan><tspan x="1954.5" y="1387.5">Resources</tspan><tspan x="1954.5" y="1406.5">Division</tspan></text></g>
<g id="ceo-building"><rect class="r" x="2166" y="1376" width="127" height="42"/><text x="2229.5" y="1401.5" class="a">Building Office</text></g>
<g id="ttm-admin"><rect class="r" x="2464" y="1348" width="54" height="70"/><text class="a"><tspan x="2491" y="1368.5">Administr</tspan><tspan x="2491" y="1387.5">ative</tspan><tspan x="2491" y="1406.5">Division</tspan></text></g>

<g id="cho-hpdd"><rect class="r" x="40" y="1445" width="56" height="71"/><text class="b"><tspan x="68" y="1456.5">Health</tspan><tspan x="68" y="1475">Program</tspan><tspan x="68" y="1493.5">Dev't</tspan><tspan x="68" y="1512">Division</tspan></text></g>
<g id="cho-nutrition"><rect class="r" x="114" y="1445" width="55" height="71"/><text class="a"><tspan x="141.5" y="1475">Nutrition</tspan><tspan x="141.5" y="1494">Division</tspan></text></g>
<g id="cho-admin"><rect class="r" x="187" y="1445" width="55" height="71"/><text class="a"><tspan x="214.5" y="1465.5">Administr</tspan><tspan x="214.5" y="1484.5">ative</tspan><tspan x="214.5" y="1503.5">Division</tspan></text></g>
<g id="cho-special"><rect class="r" x="260" y="1445" width="56" height="71"/><text class="a"><tspan x="288" y="1465.5">Special</tspan><tspan x="288" y="1484.5">Health</tspan><tspan x="288" y="1503.5">Division</tspan></text></g>
<g id="cho-medlab"><rect class="r" x="333" y="1445" width="56" height="71"/><text class="c"><tspan x="361" y="1455.3">Medical</tspan><tspan x="361" y="1469.3">Laboratory</tspan><tspan x="361" y="1483.3">&amp;</tspan><tspan x="361" y="1497.3">Social</tspan><tspan x="361" y="1511.3">Hygiene</tspan></text></g>
<g id="cho-population"><rect class="r" x="59" y="1543" width="92" height="70"/><text class="a"><tspan x="105" y="1573">Population</tspan><tspan x="105" y="1592">Division</tspan></text></g>
<g id="cho-district"><rect class="r" x="296" y="1543" width="56" height="70"/><text class="a"><tspan x="324" y="1563.5">District</tspan><tspan x="324" y="1582.5">Health</tspan><tspan x="324" y="1601.5">Services</tspan></text></g>

<g id="ccr-birth"><rect class="r" x="406" y="1445" width="74" height="71"/><text class="m"><tspan x="443" y="1465.5">Birth</tspan><tspan x="443" y="1484.5">Registration</tspan><tspan x="443" y="1503.5">Division</tspan></text></g>
<g id="ccr-marriage"><rect class="r" x="499" y="1445" width="55" height="71"/><text class="a"><tspan x="526.5" y="1465.5">Marriage</tspan><tspan x="526.5" y="1484.5">License</tspan><tspan x="526.5" y="1503.5">Division</tspan></text></g>
<g id="ccr-death"><rect class="r" x="571" y="1445" width="55" height="71"/><text class="c"><tspan x="598.5" y="1455.3">Death &amp;</tspan><tspan x="598.5" y="1469.3">Miscellaneo</tspan><tspan x="598.5" y="1483.3">us</tspan><tspan x="598.5" y="1497.3">Registratio</tspan><tspan x="598.5" y="1511.3">n</tspan></text></g>
<g id="ccr-district"><rect class="r" x="480" y="1543" width="92" height="83"/><text class="b"><tspan x="526" y="1561">District</tspan><tspan x="526" y="1579.5">Registration</tspan><tspan x="526" y="1598">Extension</tspan><tspan x="526" y="1616.5">Offices</tspan></text></g>

<g id="css-preschool"><rect class="r" x="663" y="1445" width="55" height="71"/><text style="font-size:11.5px"><tspan x="690.5" y="1465.5">Pre-</tspan><tspan x="690.5" y="1484.5">Schoolers</tspan><tspan x="690.5" y="1503.5">Division</tspan></text></g>
<g id="css-ops"><rect class="r" x="737" y="1445" width="55" height="71"/><text class="c"><tspan x="764.5" y="1462.3">Social</tspan><tspan x="764.5" y="1476.3">Services</tspan><tspan x="764.5" y="1490.3">Operations</tspan><tspan x="764.5" y="1504.3">Division</tspan></text></g>
<g id="css-district"><rect class="r" x="700" y="1543" width="55" height="70"/><text class="a"><tspan x="727.5" y="1573">District</tspan><tspan x="727.5" y="1592">Offices</tspan></text></g>

<g id="cgs-supply"><rect class="r" x="846" y="1445" width="56" height="71"/><text class="a"><tspan x="874" y="1465.5">Supply &amp;</tspan><tspan x="874" y="1484.5">Property</tspan><tspan x="874" y="1503.5">Division</tspan></text></g>
<g id="cgs-maint"><rect class="r" x="919" y="1445" width="56" height="71"/><text class="c"><tspan x="947" y="1462.3">General</tspan><tspan x="947" y="1476.3">Maintenanc</tspan><tspan x="947" y="1490.3">e</tspan><tspan x="947" y="1504.3">Division</tspan></text></g>
<g id="cgs-records"><rect class="r" x="883" y="1543" width="55" height="70"/><text class="b"><tspan x="910.5" y="1554.5">Records</tspan><tspan x="910.5" y="1573">Mgt</tspan><tspan x="910.5" y="1591.5">Division</tspan><tspan x="910.5" y="1610">(Archives)</tspan></text></g>

<g id="agri-farm"><rect class="r" x="1029" y="1445" width="56" height="71"/><text class="c"><tspan x="1057" y="1462.3">Farm Dev't</tspan><tspan x="1057" y="1476.3">&amp;Fishery</tspan><tspan x="1057" y="1490.3">Regulatory</tspan><tspan x="1057" y="1504.3">Services Div</tspan></text></g>
<g id="agri-home"><rect class="r" x="1103" y="1445" width="55" height="71"/><text class="c"><tspan x="1130.5" y="1455.3">Home Mgt</tspan><tspan x="1130.5" y="1469.3">Developme</tspan><tspan x="1130.5" y="1483.3">nt</tspan><tspan x="1130.5" y="1497.3">Service</tspan><tspan x="1130.5" y="1511.3">Division</tspan></text></g>
<g id="agri-seed"><rect class="r" x="1176" y="1445" width="55" height="71"/><text style="font-size:11.5px"><tspan x="1203.5" y="1456.5">Seedbank</tspan><tspan x="1203.5" y="1475">&amp;</tspan><tspan x="1203.5" y="1493.5">Research</tspan><tspan x="1203.5" y="1512">Division</tspan></text></g>
<g id="agri-coop"><rect class="r" x="1250" y="1445" width="55" height="71"/><text class="c"><tspan x="1277.5" y="1462.3">Cooperativ</tspan><tspan x="1277.5" y="1476.3">es</tspan><tspan x="1277.5" y="1490.3">Dev't</tspan><tspan x="1277.5" y="1504.3">Division</tspan></text></g>
<g id="agri-district"><rect class="r" x="1139" y="1543" width="56" height="70"/><text class="a"><tspan x="1167" y="1573">District</tspan><tspan x="1167" y="1592">Offices</tspan></text></g>

<g id="vet-meat"><rect class="r" x="1341" y="1445" width="56" height="71"/><text class="c"><tspan x="1369" y="1455.3">Meat,</tspan><tspan x="1369" y="1469.3">Livestock</tspan><tspan x="1369" y="1483.3">&amp; Fish</tspan><tspan x="1369" y="1497.3">Inspection</tspan><tspan x="1369" y="1511.3">Division</tspan></text></g>
<g id="vet-animal"><rect class="r" x="1415" y="1445" width="55" height="71"/><text class="c"><tspan x="1442.5" y="1455.3">Animal</tspan><tspan x="1442.5" y="1469.3">Husbandry</tspan><tspan x="1442.5" y="1483.3">&amp; Disease</tspan><tspan x="1442.5" y="1497.3">Control</tspan><tspan x="1442.5" y="1511.3">Division</tspan></text></g>
<g id="vet-research"><rect class="r" x="1359" y="1543" width="92" height="70"/><text class="m"><tspan x="1405" y="1563.5">Research</tspan><tspan x="1405" y="1582.5">&amp; Laboratory</tspan><tspan x="1405" y="1601.5">Division</tspan></text></g>

<g id="coop-project"><rect class="r" x="1506" y="1445" width="56" height="71"/><text class="b"><tspan x="1534" y="1456.5">Project</tspan><tspan x="1534" y="1475">Mgt</tspan><tspan x="1534" y="1493.5">&amp; Dev't</tspan><tspan x="1534" y="1512">Division</tspan></text></g>
<g id="coop-info"><rect class="r" x="1579" y="1445" width="56" height="71"/><text class="c"><tspan x="1607" y="1455.3">Information</tspan><tspan x="1607" y="1469.3">,</tspan><tspan x="1607" y="1483.3">Education</tspan><tspan x="1607" y="1497.3">&amp; Training</tspan><tspan x="1607" y="1511.3">Division</tspan></text></g>
<g id="coop-district"><rect class="r" x="1542" y="1543" width="56" height="70"/><text class="a"><tspan x="1570" y="1573">District</tspan><tspan x="1570" y="1592">Offices</tspan></text></g>

<g id="cenro-waste"><rect class="r" x="1671" y="1445" width="55" height="71"/><text class="c"><tspan x="1698.5" y="1455.3">Environmen</tspan><tspan x="1698.5" y="1469.3">tal</tspan><tspan x="1698.5" y="1483.3">&amp; Waste</tspan><tspan x="1698.5" y="1497.3">Mgt</tspan><tspan x="1698.5" y="1511.3">Division</tspan></text></g>
<g id="cenro-parks"><rect class="r" x="1744" y="1445" width="74" height="71"/><text class="c"><tspan x="1781" y="1462.3">Parks &amp;</tspan><tspan x="1781" y="1476.3">Playgrounds</tspan><tspan x="1781" y="1490.3">Development</tspan><tspan x="1781" y="1504.3">Division</tspan></text></g>
<g id="cenro-nrod"><rect class="r" x="1707" y="1543" width="55" height="70"/><text class="c"><tspan x="1734.5" y="1560.3">Natural</tspan><tspan x="1734.5" y="1574.3">Resources</tspan><tspan x="1734.5" y="1588.3">Operations</tspan><tspan x="1734.5" y="1602.3">Division</tspan></text></g>

<g id="ceo-construction"><rect class="r" x="1836" y="1445" width="55" height="71"/><text class="c"><tspan x="1863.5" y="1469.3">Constructio</tspan><tspan x="1863.5" y="1483.3">n</tspan><tspan x="1863.5" y="1497.3">Division</tspan></text></g>
<g id="ceo-motorpool"><rect class="r" x="1909" y="1445" width="55" height="71"/><text style="font-size:11.5px"><tspan x="1936.5" y="1475">Motorpool</tspan><tspan x="1936.5" y="1494">Division</tspan></text></g>
<g id="ceo-maintenance"><rect class="y" x="1854" y="1543" width="92" height="70"/><text class="m"><tspan x="1900" y="1573">Maintenance</tspan><tspan x="1900" y="1592">Division</tspan></text><text x="1928" y="1625" class="b">incl. Drainage</text></g>
<g id="ceo-admin"><rect class="r" x="2000" y="1445" width="56" height="71"/><text class="a"><tspan x="2028" y="1465.5">Administr</tspan><tspan x="2028" y="1484.5">ative</tspan><tspan x="2028" y="1503.5">Division</tspan></text></g>
<g id="ceo-material"><rect class="r" x="2074" y="1445" width="55" height="71"/><text class="c"><tspan x="2101.5" y="1462.3">Material</tspan><tspan x="2101.5" y="1476.3">Testing &amp;</tspan><tspan x="2101.5" y="1490.3">Quality</tspan><tspan x="2101.5" y="1504.3">Control Div</tspan></text></g>
<g id="ceo-planning"><rect class="r" x="2037" y="1543" width="55" height="70"/><text class="c"><tspan x="2064.5" y="1560.3">Planning &amp;</tspan><tspan x="2064.5" y="1574.3">Programmi</tspan><tspan x="2064.5" y="1588.3">ng</tspan><tspan x="2064.5" y="1602.3">Division</tspan></text></g>
<g id="ceo-permits"><rect class="r" x="2166" y="1445" width="54" height="71"/><text class="a"><tspan x="2193" y="1465.5">Building</tspan><tspan x="2193" y="1484.5">Permits</tspan><tspan x="2193" y="1503.5">Division</tspan></text></g>
<g id="ceo-electrical"><rect class="r" x="2238" y="1445" width="55" height="71"/><text class="c"><tspan x="2265.5" y="1469.3">Electrical</tspan><tspan x="2265.5" y="1483.3">Engineering</tspan><tspan x="2265.5" y="1497.3">Division</tspan></text></g>
<g id="ceo-safety"><rect class="r" x="2202" y="1543" width="55" height="70"/><text class="m"><tspan x="2229.5" y="1563.5">Industrial</tspan><tspan x="2229.5" y="1582.5">Safety</tspan><tspan x="2229.5" y="1601.5">Division</tspan></text></g>

<g id="ttm-planning"><rect class="r" x="2331" y="1445" width="54" height="71"/><text class="b"><tspan x="2358" y="1456.5">Transport</tspan><tspan x="2358" y="1475">Planning</tspan><tspan x="2358" y="1493.5">&amp; Mgt</tspan><tspan x="2358" y="1512">Division</tspan></text></g>
<g id="ttm-enforcement"><rect class="r" x="2403" y="1445" width="60" height="71"/><text class="c"><tspan x="2433" y="1462.3">Traffic</tspan><tspan x="2433" y="1476.3">Enforcement</tspan><tspan x="2433" y="1490.3">&amp; Street Mgt</tspan><tspan x="2433" y="1504.3">Division</tspan></text></g>
<g id="ttm-motorized"><rect class="r" x="2481" y="1445" width="59" height="71"/><text class="c"><tspan x="2510.5" y="1455.3">Motorized</tspan><tspan x="2510.5" y="1469.3">Vehicle</tspan><tspan x="2510.5" y="1483.3">Franchising&amp;</tspan><tspan x="2510.5" y="1497.3">Regulatory</tspan><tspan x="2510.5" y="1511.3">Div</tspan></text></g>
<g id="ttm-engineering"><rect class="r" x="2348" y="1543" width="78" height="70"/><text class="c"><tspan x="2387" y="1560.3">Traffic</tspan><tspan x="2387" y="1574.3">Engineering&amp;</tspan><tspan x="2387" y="1588.3">Infrastructure</tspan><tspan x="2387" y="1602.3">Division</tspan></text></g>
<g id="ttm-facilities"><rect class="r" x="2444" y="1543" width="56" height="70"/><text class="c"><tspan x="2472" y="1560.3">Facilities</tspan><tspan x="2472" y="1574.3">Mgt &amp;</tspan><tspan x="2472" y="1588.3">Operations</tspan><tspan x="2472" y="1602.3">Division</tspan></text></g>
</svg>
